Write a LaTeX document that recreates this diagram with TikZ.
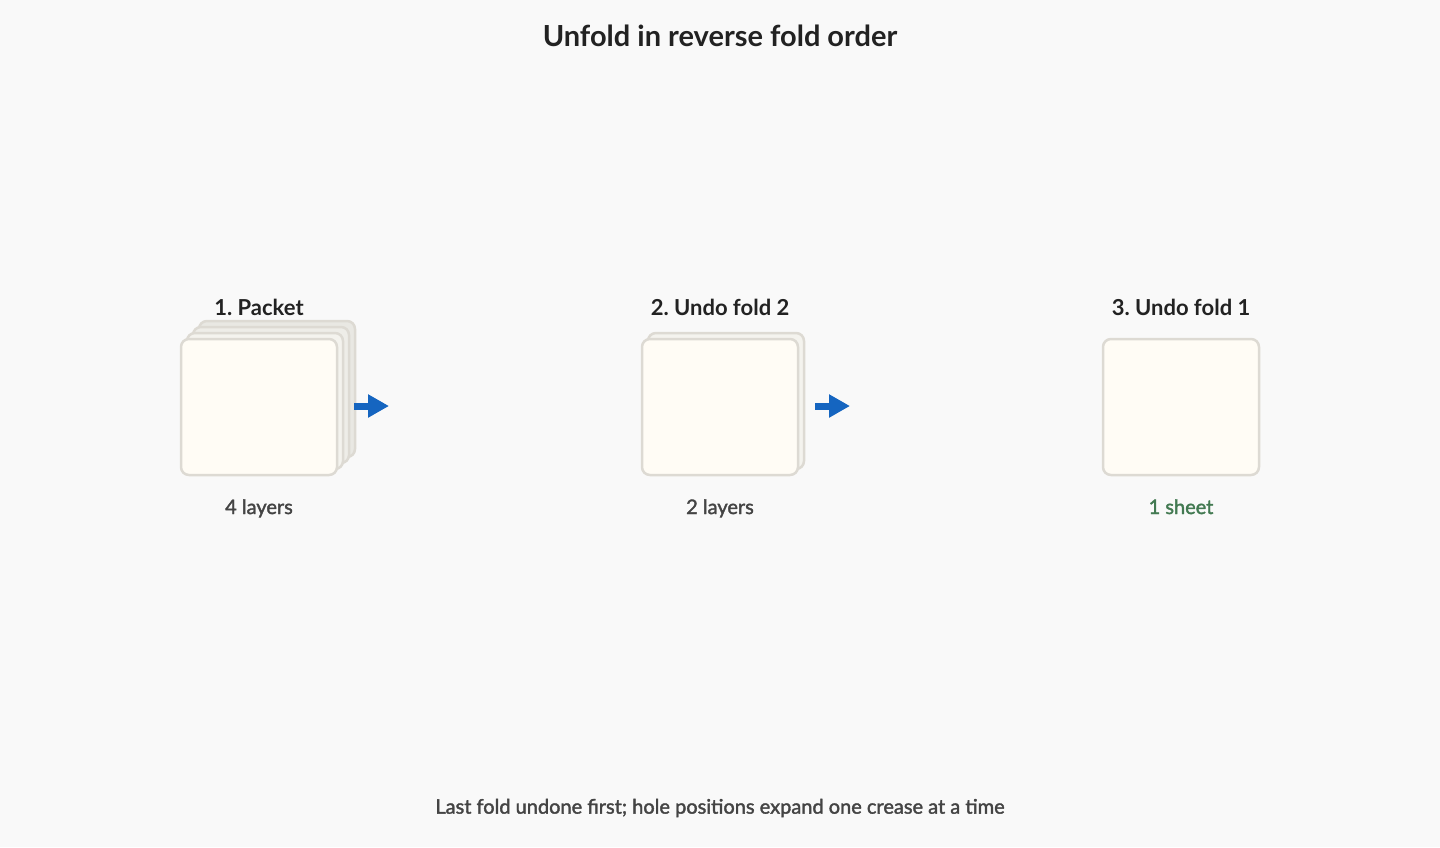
\documentclass[tikz,border=0pt]{standalone}
\usepackage{fontspec}
\setmainfont{Lato}
\newfontfamily\latosemi{Lato}[FakeBold=1.8]
\frenchspacing
\usetikzlibrary{arrows.meta}
\definecolor{bgc}{HTML}{F9F9F9}
\definecolor{ttl}{HTML}{222222}
\definecolor{lbl}{HTML}{444444}
\definecolor{grn}{HTML}{437A52}
\definecolor{edge}{HTML}{DDDAD3}
\definecolor{paper}{HTML}{FFFCF5}
\definecolor{back1}{HTML}{F4F3EE}
\definecolor{back2}{HTML}{EEEDE8}
\definecolor{back3}{HTML}{E9E8E3}
\definecolor{arrc}{HTML}{1565C0}
\tikzset{
  sheet/.style={draw=edge, line width=2.5pt, fill=paper, rounded corners=8pt,
    minimum width=156pt, minimum height=136pt, inner sep=0pt},
  maintitle/.style={font=\fontsize{29}{33}\selectfont\bfseries, text=ttl},
  steptitle/.style={font=\fontsize{22}{26}\selectfont\bfseries, text=ttl},
  steplabel/.style={font=\fontsize{20}{24}\selectfont\latosemi, text=lbl,
    text height=14pt, text depth=4pt},
  foot/.style={font=\fontsize{20}{24}\selectfont\latosemi, text=lbl},
  arr/.style={draw=arrc, line width=7pt, -{Triangle[length=21pt,width=22pt]}},
}
\begin{document}
\begin{tikzpicture}[x=1pt,y=-1pt]
\fill[bgc] (0,0) rectangle (1440,847);
\useasboundingbox (0,0) rectangle (1440,847);
\node[maintitle] (title) at (720,36) {Unfold in reverse fold order};
% panel 1
\node[sheet, fill=back3] (p1d) at (277,389) {};
\node[sheet, fill=back2] (p1c) at (271,395) {};
\node[sheet, fill=back1] (p1b) at (265,401) {};
\node[sheet] (p1a) at (259,407) {};
\node[steptitle] (t1) at (259,307) {1. Packet};
\node[steplabel] (l1) at (259,509) {4 layers};
% panel 2
\node[sheet, fill=back1] (p2b) at (726,401) {};
\node[sheet] (p2a) at (720,407) {};
\node[steptitle] (t2) at (720,307) {2. Undo fold 2};
\node[steplabel] (l2) at (720,509) {2 layers};
% panel 3
\node[sheet] (p3a) at (1181,407) {};
\node[steptitle] (t3) at (1181,307) {3. Undo fold 1};
\node[steplabel, text=grn] (l3) at (1181,509) {1 sheet};
% arrows
\coordinate (a1s) at (354,406);
\coordinate (a1e) at (389,406);
\coordinate (a2s) at (815,406);
\coordinate (a2e) at (850,406);
\draw[arr] (a1s) -- (a1e);
\draw[arr] (a2s) -- (a2e);
\node[foot] (footer) at (720,808) {Last fold undone first; hole positions expand one crease at a time};
\end{tikzpicture}
\end{document}
